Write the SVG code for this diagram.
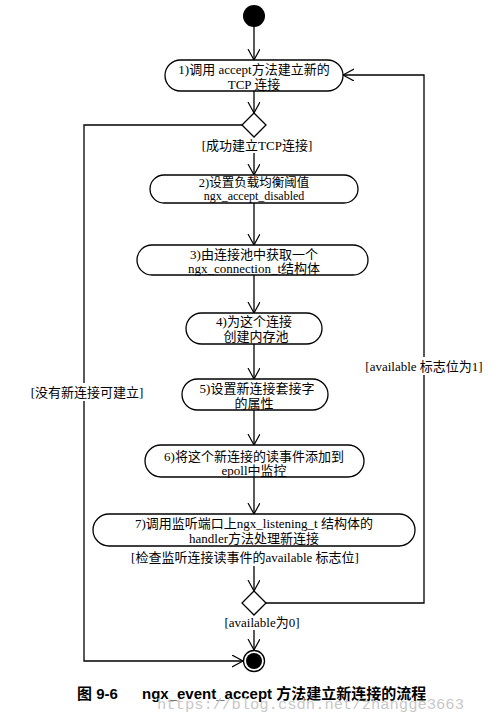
<svg xmlns="http://www.w3.org/2000/svg" width="498" height="723" viewBox="0 0 498 723">
<style>
.node rect{fill:#fff;stroke:#000;stroke-width:1.3}
.t{font-family:"Liberation Serif","Noto Sans CJK SC",serif;font-size:13px;fill:#000;text-anchor:middle;dominant-baseline:central}
.lbl{font-family:"Liberation Serif","Noto Sans CJK SC",serif;font-size:13px;fill:#000;text-anchor:middle;dominant-baseline:central}
.conn line,.conn polyline{stroke:#000;stroke-width:1.3;fill:none}
.cap{font-family:"Liberation Sans","Noto Sans CJK SC",sans-serif;font-size:15px;font-weight:bold;fill:#000}
.wm{font-family:"Liberation Mono",monospace;font-size:15.5px;fill:#c8c8c8}
</style>
<defs>
<marker id="arr" markerWidth="14" markerHeight="14" refX="11" refY="6" orient="auto" markerUnits="userSpaceOnUse">
<polyline points="0,0 11,6 0,12" fill="none" stroke="#000" stroke-width="1.2"/>
</marker>
</defs>
<g id="connectors" class="conn">
<line x1="254" y1="26" x2="254" y2="60" marker-end="url(#arr)"/>
<line x1="254" y1="91" x2="254" y2="113" marker-end="url(#arr)"/>
<line x1="254" y1="153" x2="254" y2="175" marker-end="url(#arr)"/>
<line x1="254" y1="203" x2="254" y2="245" marker-end="url(#arr)"/>
<line x1="254" y1="275" x2="254" y2="313" marker-end="url(#arr)"/>
<line x1="254" y1="344" x2="254" y2="379" marker-end="url(#arr)"/>
<line x1="254" y1="410" x2="254" y2="445" marker-end="url(#arr)"/>
<line x1="254" y1="477" x2="254" y2="514" marker-end="url(#arr)"/>
<line x1="254" y1="566" x2="254" y2="591" marker-end="url(#arr)"/>
<line x1="254" y1="630" x2="254" y2="650" marker-end="url(#arr)"/>
<polyline points="242,125 84,125 84,383"/>
<polyline points="84,401 84,661 243,661" marker-end="url(#arr)"/>
<polyline points="266,603 424,603 424,375"/>
<polyline points="424,357 424,75 343,75" marker-end="url(#arr)"/>
</g>
<g id="start"><circle cx="254" cy="16" r="11" fill="#000"/></g>
<g id="n1" class="node"><rect x="165" y="60" width="178" height="31" rx="15.5"/><text class="t" x="254" y="69">1)调用 accept方法建立新的</text><text class="t" x="254" y="84">TCP 连接</text></g>
<g id="d1"><polygon points="254,113 266,125 254,137 242,125" fill="#fff" stroke="#000" stroke-width="1.3"/></g>
<g id="l1"><text class="lbl" x="257" y="145">[成功建立TCP连接]</text></g>
<g id="n2" class="node"><rect x="150" y="175" width="208" height="28" rx="14"/><text class="t" x="254" y="183" style="font-size:12.5px">2)设置负载均衡阈值</text><text class="t" x="254" y="196" style="font-size:12px">ngx_accept_disabled</text></g>
<g id="n3" class="node"><rect x="137" y="245" width="231" height="30" rx="15"/><text class="t" x="254" y="254">3)由连接池中获取一个</text><text class="t" x="254" y="268">ngx_connection_t结构体</text></g>
<g id="n4" class="node"><rect x="186" y="313" width="136" height="31" rx="15.5"/><text class="t" x="254" y="321">4)为这个连接</text><text class="t" x="256" y="336">创建内存池</text></g>
<g id="n5" class="node"><rect x="182" y="379" width="146" height="31" rx="15.5"/><text class="t" x="257" y="388">5)设置新连接套接字</text><text class="t" x="254" y="403">的属性</text></g>
<g id="n6" class="node"><rect x="145" y="445" width="219" height="32" rx="16"/><text class="t" x="254" y="456">6)将这个新连接的读事件添加到</text><text class="t" x="254" y="470">epoll中监控</text></g>
<g id="n7" class="node"><rect x="93" y="514" width="322" height="32" rx="16"/><text class="t" x="254" y="523">7)调用监听端口上ngx_listening_t 结构体的</text><text class="t" x="254" y="538">handler方法处理新连接</text></g>
<g id="l2"><text class="lbl" x="245" y="557">[检查监听连接读事件的available 标志位]</text></g>
<g id="d2"><polygon points="254,591 266,603 254,615 242,603" fill="#fff" stroke="#000" stroke-width="1.3"/></g>
<g id="l3"><text class="lbl" x="262" y="622">[available为0]</text></g>
<g id="l4"><text class="lbl" x="87" y="392">[没有新连接可建立]</text></g>
<g id="l5"><text class="lbl" x="424" y="366">[available 标志位为1]</text></g>
<g id="end"><circle cx="254" cy="661" r="10.5" fill="#fff" stroke="#000" stroke-width="1.3"/><circle cx="254" cy="661" r="8" fill="#000"/></g>
<text class="cap" x="77" y="699">图 9-6</text>
<text class="cap" x="142" y="699">ngx_event_accept 方法建立新连接的流程</text>
<text class="wm" x="157" y="709">https://blog.csdn.net/zhangge3663</text>
</svg>
